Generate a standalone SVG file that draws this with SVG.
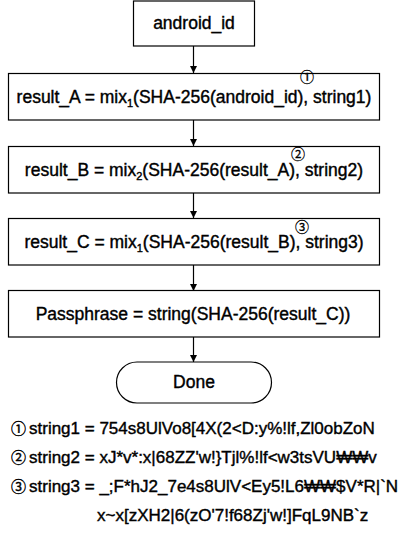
<svg xmlns="http://www.w3.org/2000/svg" width="411" height="535" viewBox="0 0 411 535">
<defs>
<style>
.box{fill:#fff;stroke:#000;stroke-width:1.2}
.t{font-family:"Liberation Sans","Noto Sans CJK KR",sans-serif;font-size:17.5px;fill:#000;stroke:#000;stroke-width:0.4;text-anchor:middle}
.n{font-family:"Liberation Sans","Noto Sans CJK KR",sans-serif;font-size:17px;fill:#000;stroke:#000;stroke-width:0.4}
.c{font-family:"Noto Sans CJK KR","DejaVu Sans",sans-serif;font-size:14px;fill:#000;stroke:#000;stroke-width:0.3;text-anchor:middle}
.cn{font-family:"Noto Sans CJK KR","DejaVu Sans",sans-serif;font-size:15px;fill:#000;stroke:#000;stroke-width:0.4;text-anchor:middle}
.sub{font-size:11px}
.edge{stroke:#000;stroke-width:1.2;fill:none;marker-end:url(#arr)}
</style>
<marker id="arr" viewBox="0 0 10 10" refX="10" refY="5" markerWidth="7" markerHeight="7" markerUnits="userSpaceOnUse" orient="auto">
<path d="M0,0 L10,5 L0,10 z" fill="#000"/>
</marker>
</defs>
<g id="connectors">
<line class="edge" x1="193.5" y1="46" x2="193.5" y2="73"/>
<line class="edge" x1="193.5" y1="120" x2="193.5" y2="146"/>
<line class="edge" x1="193.5" y1="193" x2="193.5" y2="218"/>
<line class="edge" x1="193.5" y1="265" x2="193.5" y2="291"/>
<line class="edge" x1="193.5" y1="337" x2="193.5" y2="362"/>
</g>
<g id="android_id">
<rect class="box" x="133.5" y="1" width="121" height="45"/>
<text class="t" x="194" y="29">android_id</text>
</g>
<g id="result_A">
<rect class="box" x="8.5" y="73.5" width="371" height="46.5"/>
<text class="t" x="194" y="103">result_A = mix<tspan class="sub" dy="4">1</tspan><tspan dy="-4">(SHA-256(android_id), string1)</tspan></text>
<text class="c" x="307" y="82">①</text>
</g>
<g id="result_B">
<rect class="box" x="8.5" y="146.5" width="371" height="46.5"/>
<text class="t" x="194" y="176">result_B = mix<tspan class="sub" dy="4">2</tspan><tspan dy="-4">(SHA-256(result_A), string2)</tspan></text>
<text class="c" x="298" y="159">②</text>
</g>
<g id="result_C">
<rect class="box" x="8.5" y="218.5" width="371" height="46.5"/>
<text class="t" x="194" y="248">result_C = mix<tspan class="sub" dy="4">1</tspan><tspan dy="-4">(SHA-256(result_B), string3)</tspan></text>
<text class="c" x="302" y="232">③</text>
</g>
<g id="passphrase">
<rect class="box" x="8.5" y="290.5" width="371" height="46.5"/>
<text class="t" x="193" y="320">Passphrase = string(SHA-256(result_C))</text>
</g>
<g id="done">
<rect class="box" x="116.5" y="362" width="155" height="41" rx="20.5" ry="20.5"/>
<text class="t" x="194" y="388">Done</text>
</g>
<g id="notes">
<text class="cn" x="18.5" y="434">①</text>
<text class="n" x="29" y="434">string1 = 754s8UlVo8[4X(2&lt;D:y%!lf,Zl0obZoN</text>
<text class="cn" x="18.5" y="463">②</text>
<text class="n" x="29" y="463">string2 = xJ*v*:x|68ZZ'w!}Tjl%!lf&lt;w3tsVU₩₩v</text>
<text class="cn" x="18.5" y="492">③</text>
<text class="n" x="29" y="492">string3 = _;F*hJ2_7e4s8UlV&lt;Ey5!L6₩₩$V*R|`N</text>
<text class="n" x="97" y="521">x~x[zXH2|6(zO'7!f68Zj'w!]FqL9NB`z</text>
</g>
</svg>
